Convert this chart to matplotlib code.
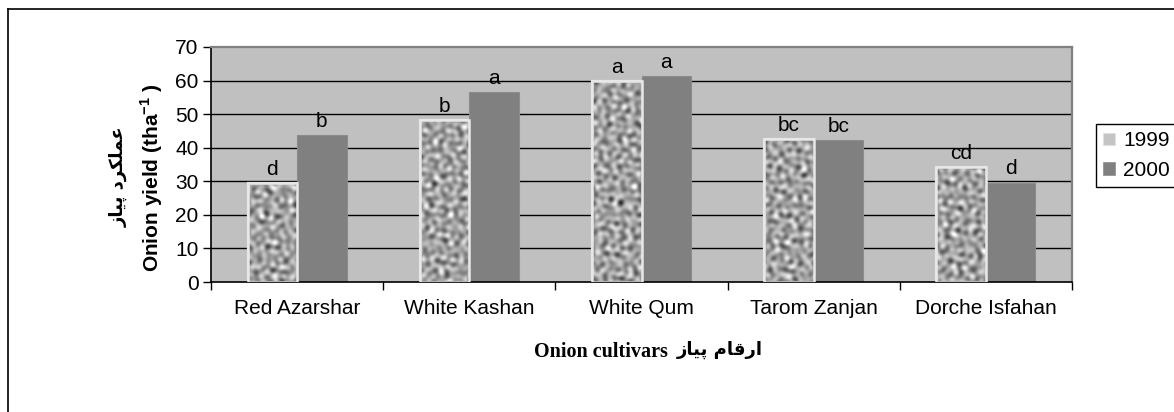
import numpy as np
import matplotlib
matplotlib.use("Agg")
import matplotlib.pyplot as plt
from matplotlib.patches import Patch, Rectangle
from matplotlib.lines import Line2D

# ---- data ----
cultivars = ["Red Azarshar", "White Kashan", "White Qum", "Tarom Zanjan", "Dorche Isfahan"]
yield_1999 = [29.5, 48.2, 59.9, 42.5, 34.3]
yield_2000 = [43.8, 56.6, 61.4, 42.3, 29.6]
letters_1999 = ["d", "b", "a", "bc", "cd"]
letters_2000 = ["b", "a", "a", "bc", "d"]
series_names = ["1999", "2000"]
yticks = [0, 10, 20, 30, 40, 50, 60, 70]

# Persian text in presentation forms, visual order
ylabel_fa = "\uFEAF\uFE8E\uFBFF\uFB58 \uFEA9\uFEAE\uFB91\uFEE0\uFEE4\uFECB"
xlabel_fa = "\uFEAF\uFE8E\uFBFF\uFB58 \uFEE1\uFE8E\uFED7\uFEAD\uFE8D"

plt.rcParams['font.family'] = ['Liberation Sans', 'DejaVu Sans']
plt.rcParams['mathtext.fontset'] = 'custom'
plt.rcParams['mathtext.rm'] = 'Liberation Sans'
plt.rcParams['mathtext.bf'] = 'Liberation Sans:bold'

W, H = 1174, 412
fig = plt.figure(figsize=(W / 100, H / 100), dpi=100)
fig.patch.set_facecolor('white')

# figure frame (left and top edges visible)
fig.add_artist(Line2D([8 / W, 8 / W], [0, 1 - 9 / H], color='black', lw=1.2, transform=fig.transFigure))
fig.add_artist(Line2D([8 / W, 1], [1 - 9 / H, 1 - 9 / H], color='black', lw=1.2, transform=fig.transFigure))

left, right, top, bottom = 211, 1072, 47, 282
ax = fig.add_axes([left / W, 1 - bottom / H, (right - left) / W, (bottom - top) / H])
ax.set_facecolor('#c0c0c0')
n = len(cultivars)

for yv in yticks[1:-1]:
    ax.axhline(yv, color='black', lw=1.0, zorder=1)

x = np.arange(n)
w = 0.288

# deterministic mottled texture (decoration only)
ty, tx = np.mgrid[0:240, 0:870].astype(float)
tex = np.zeros_like(tx)
golden = 2.399963
for k in range(24):
    ang = k * golden
    f = 0.42 + 0.07 * (k % 7)
    tex += np.sin(f * np.cos(ang) * tx + f * np.sin(ang) * ty + 1.7 * k)
tex = tex / np.std(tex)

bars1 = ax.bar(x - w / 2, yield_1999, w, color='#b0b0b0', edgecolor='#e4e4e4', lw=1.6, zorder=2)
bars2 = ax.bar(x + w / 2, yield_2000, w, color='#808080', edgecolor='#8c8c8c', lw=0.8, zorder=2)

for b in bars1:
    im = ax.imshow(tex, cmap='gray', vmin=-5.5, vmax=3.2, extent=[-0.5, n - 0.5, 0, 70],
                   aspect='auto', zorder=2.5, interpolation='bilinear')
    im.set_clip_path(b)
    ax.add_patch(Rectangle(b.get_xy(), b.get_width(), b.get_height(), fill=False,
                           edgecolor='#e8e8e8', lw=1.8, zorder=2.6))
ax.set_xlim(-0.5, n - 0.5)
ax.set_ylim(0, 70)

for xi, v, t in zip(x - w / 2, yield_1999, letters_1999):
    ax.annotate(t, (xi, v), xytext=(0, 3), textcoords='offset points', ha='center', va='bottom',
                fontsize=15, zorder=5)
for xi, v, t in zip(x + w / 2, yield_2000, letters_2000):
    ax.annotate(t, (xi, v), xytext=(0, 3), textcoords='offset points', ha='center', va='bottom',
                fontsize=15, zorder=5)

ax.set_yticks(yticks)
ax.set_yticklabels([str(t) for t in yticks], fontsize=15)
ax.tick_params(axis='y', direction='out', length=6, width=1, pad=3)
ax.set_xticks(np.arange(-0.5, n, 1.0))
ax.set_xticklabels([])
ax.tick_params(axis='x', which='major', direction='out', length=6, width=1)
ax.set_xticks(x, minor=True)
ax.set_xticklabels(cultivars, minor=True, fontsize=15)
ax.tick_params(axis='x', which='minor', length=0, pad=12)

for s in ['left', 'bottom']:
    ax.spines[s].set_color('black')
    ax.spines[s].set_linewidth(1.2)
for s in ['top', 'right']:
    ax.spines[s].set_color('#808080')
    ax.spines[s].set_linewidth(1.6)

# y label (two lines)
fig.text(119 / W, 1 - 177 / H, ylabel_fa, rotation=90, ha='center', va='center',
         fontsize=13, fontweight='bold', family=['DejaVu Sans'])
fig.text(152 / W, 1 - 178 / H, r"Onion yield (tha$^{\mathbf{-1}}$ )", rotation=90,
         ha='center', va='center', fontsize=15, fontweight='bold')

# x label
fig.text(668 / W, 1 - 352 / H, "Onion cultivars", ha='right', va='center', fontsize=14.5,
         fontweight='bold', family=['Liberation Serif'])
fig.text(677 / W, 1 - 350 / H, xlabel_fa, ha='left', va='center', fontsize=13,
         fontweight='bold', family=['DejaVu Sans'])

# legend
handles = [Patch(facecolor='#c4c4c4', edgecolor='#e0e0e0', lw=0.8),
           Patch(facecolor='#808080', edgecolor='#8c8c8c', lw=0.5)]
leg = fig.legend(handles, series_names, loc='upper left', bbox_to_anchor=(1096 / W, 1 - 124 / H),
                 fontsize=15, frameon=True, fancybox=False, edgecolor='black', framealpha=1,
                 handlelength=0.55, handleheight=0.55, handletextpad=0.4, labelspacing=0.5,
                 borderpad=0.35, borderaxespad=0)
leg.get_frame().set_linewidth(1.0)

fig.savefig('out.png', dpi=100)
